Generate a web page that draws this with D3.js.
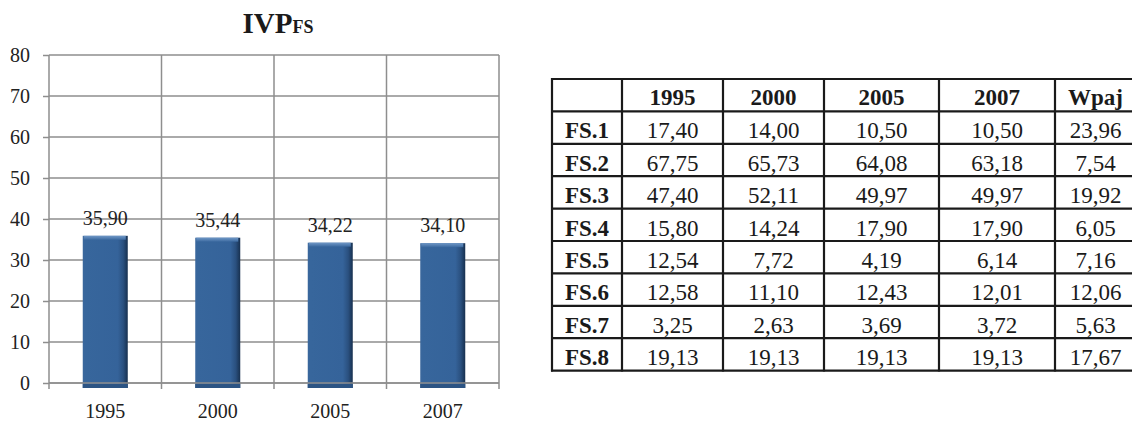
<!DOCTYPE html>
<html>
<head>
<meta charset="utf-8">
<script src="https://cdn.jsdelivr.net/npm/d3@7"></script>
<style>
  body { margin: 0; background: #fff; }
  svg { display: block; }
  svg text { font-family: "Liberation Serif", "Times New Roman", serif; }
</style>
</head>
<body>
<svg id="chart" width="1132" height="423"></svg>
<script>
// chart data
var years = ["1995", "2000", "2005", "2007"],
    ivpValues = [35.90, 35.44, 34.22, 34.10],
    yTicks = [0, 10, 20, 30, 40, 50, 60, 70, 80];

// table data
var tableHeader = ["", "1995", "2000", "2005", "2007", "Wpaj"],
    rowLabels = ["FS.1", "FS.2", "FS.3", "FS.4", "FS.5", "FS.6", "FS.7", "FS.8"],
    rowValues = [
        ["17,40", "14,00", "10,50", "10,50", "23,96"],
        ["67,75", "65,73", "64,08", "63,18", "7,54"],
        ["47,40", "52,11", "49,97", "49,97", "19,92"],
        ["15,80", "14,24", "17,90", "17,90", "6,05"],
        ["12,54", "7,72", "4,19", "6,14", "7,16"],
        ["12,58", "11,10", "12,43", "12,01", "12,06"],
        ["3,25", "2,63", "3,69", "3,72", "5,63"],
        ["19,13", "19,13", "19,13", "19,13", "17,67"]
    ];

var fmt = function(v) { return v.toFixed(2).replace(".", ","); };
var serif = "'Liberation Serif', 'Times New Roman', serif";

var svg = d3.select("#chart");

var plot = { left: 49, right: 499, top: 55, bottom: 383 };

var x = d3.scaleBand().domain(years).range([plot.left, plot.right]).padding(0),
    y = d3.scaleLinear().domain([0, 80]).range([plot.bottom, plot.top]);

var defs = svg.append("defs");
var g1 = defs.append("linearGradient").attr("id", "barBody").attr("x1", 0).attr("x2", 1).attr("y1", 0).attr("y2", 0);
g1.append("stop").attr("offset", "0%").attr("stop-color", "#3a679c");
g1.append("stop").attr("offset", "6%").attr("stop-color", "#37669c");
g1.append("stop").attr("offset", "78%").attr("stop-color", "#35639a");
g1.append("stop").attr("offset", "90%").attr("stop-color", "#2a507f");
g1.append("stop").attr("offset", "100%").attr("stop-color", "#17304f");
var g2 = defs.append("linearGradient").attr("id", "barTop").attr("x1", 0).attr("x2", 0).attr("y1", 0).attr("y2", 1);
g2.append("stop").attr("offset", "0%").attr("stop-color", "#6f97c6");
g2.append("stop").attr("offset", "100%").attr("stop-color", "#3c6aa0");

// grid
svg.append("g").selectAll("line")
    .data(yTicks)
    .enter().append("line")
    .attr("x1", plot.left).attr("x2", plot.right)
    .attr("y1", function(d) { return y(d); }).attr("y2", function(d) { return y(d); })
    .attr("stroke", "#8e8e8e").attr("stroke-width", 1.5);

var bounds = years.map(function(d) { return x(d); }).concat([plot.right]);
svg.append("g").selectAll("line")
    .data(bounds)
    .enter().append("line")
    .attr("x1", function(d) { return d; }).attr("x2", function(d) { return d; })
    .attr("y1", plot.top).attr("y2", plot.bottom + 6)
    .attr("stroke", "#8e8e8e").attr("stroke-width", 1.5);

// y axis
var yAxis = svg.append("g")
    .attr("transform", "translate(" + plot.left + ",0)")
    .call(d3.axisLeft(y).tickValues(yTicks).tickSize(6).tickPadding(13));
yAxis.attr("font-family", serif).attr("font-size", 20);
yAxis.select(".domain").remove();
yAxis.selectAll(".tick line").attr("stroke", "#8e8e8e").attr("stroke-width", 1.5);
yAxis.selectAll(".tick text").attr("fill", "#222");

// x labels
svg.append("g").selectAll("text")
    .data(years)
    .enter().append("text")
    .attr("x", function(d) { return x(d) + x.bandwidth() / 2; })
    .attr("y", 418)
    .attr("text-anchor", "middle")
    .attr("fill", "#222")
    .attr("font-family", serif)
    .attr("font-size", 20)
    .text(function(d) { return d; });

// bars
var bw = x.bandwidth() * 0.4;
var bars = svg.append("g").selectAll("g")
    .data(ivpValues)
    .enter().append("g");

bars.append("rect")
    .attr("x", function(d, i) { return x(years[i]) + (x.bandwidth() - bw) / 2; })
    .attr("y", function(d) { return y(d); })
    .attr("width", bw)
    .attr("height", function(d) { return y(0) - y(d) + 5; })
    .attr("fill", "url(#barBody)");

bars.append("rect")
    .attr("x", function(d, i) { return x(years[i]) + (x.bandwidth() - bw) / 2 + 1; })
    .attr("y", function(d) { return y(d); })
    .attr("width", bw - 3)
    .attr("height", 4)
    .attr("fill", "url(#barTop)");

// base shadow under zero line
bars.append("rect")
    .attr("x", function(d, i) { return x(years[i]) + (x.bandwidth() - bw) / 2; })
    .attr("y", y(0) + 1)
    .attr("width", bw)
    .attr("height", 4)
    .attr("fill", "#2c5484");

svg.append("line")
    .attr("x1", plot.left).attr("x2", plot.right)
    .attr("y1", y(0)).attr("y2", y(0))
    .attr("stroke", "#8e8e8e").attr("stroke-width", 1.5);

bars.append("text")
    .attr("x", function(d, i) { return x(years[i]) + x.bandwidth() / 2; })
    .attr("y", function(d) { return y(d) - 11; })
    .attr("text-anchor", "middle")
    .attr("fill", "#222")
    .attr("font-family", serif)
    .attr("font-size", 20)
    .text(function(d) { return fmt(d); });

// title
var title = svg.append("text")
    .attr("x", 278).attr("y", 33)
    .attr("text-anchor", "middle")
    .attr("fill", "#1a1a1a")
    .attr("font-family", serif)
    .attr("font-weight", "bold");
title.append("tspan").attr("font-size", 29).text("IVP");
title.append("tspan").attr("font-size", 18).text("FS");

// table
var colX = [552, 622, 723, 824, 939, 1055, 1136],
    tTop = 79, rowH = 32.4;

var table = svg.append("g");
var allRows = [tableHeader].concat(rowLabels.map(function(l, i) { return [l].concat(rowValues[i]); }));

allRows.forEach(function(row, r) {
    row.forEach(function(cell, c) {
        var bold = (r === 0 || c === 0);
        table.append("text")
            .attr("x", (colX[c] + colX[c + 1]) / 2)
            .attr("y", tTop + r * rowH + (r === 0 ? 26 : 27))
            .attr("text-anchor", "middle")
            .attr("fill", "#1a1a1a")
            .attr("font-family", serif)
            .attr("font-size", bold ? 23 : 23)
            .attr("font-weight", bold ? "bold" : "normal")
            .text(cell);
    });
});

d3.range(allRows.length + 1).forEach(function(r) {
    table.append("line")
        .attr("x1", colX[0] - 1).attr("x2", colX[colX.length - 1])
        .attr("y1", tTop + r * rowH).attr("y2", tTop + r * rowH)
        .attr("stroke", "#1a1a1a").attr("stroke-width", 2.2);
});
colX.forEach(function(cx) {
    table.append("line")
        .attr("x1", cx).attr("x2", cx)
        .attr("y1", tTop - 1).attr("y2", tTop + allRows.length * rowH + 1)
        .attr("stroke", "#1a1a1a").attr("stroke-width", 2.2);
});
</script>
</body>
</html>
